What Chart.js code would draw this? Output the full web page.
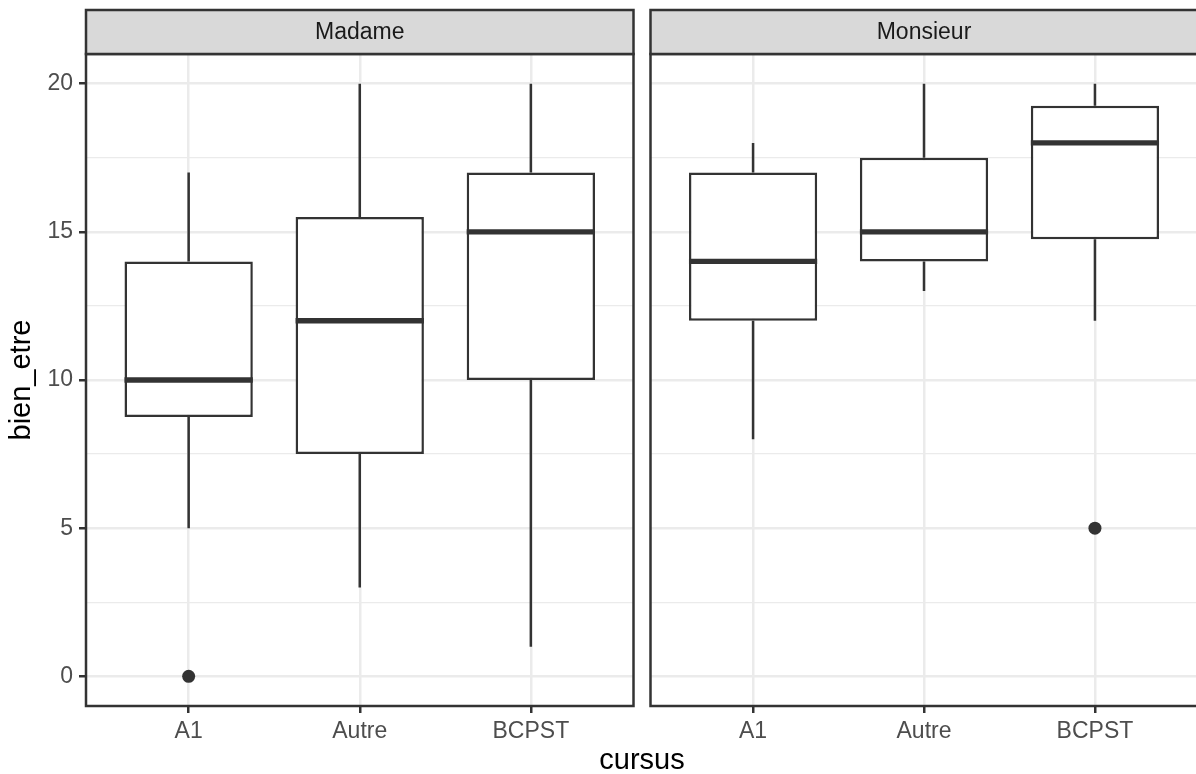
<!DOCTYPE html>
<html>
<head>
<meta charset="utf-8">
<script src="https://cdn.jsdelivr.net/npm/chart.js@4"></script>
<style>
  html, body { margin: 0; padding: 0; background: #fff; overflow: hidden; }
  #page { position: relative; width: 1196px; height: 774px; overflow: hidden; }
  canvas { position: absolute; top: 0; }
  #xtitle { position: absolute; left: 0; width: 1284px; top: 743px; text-align: center;
            font: 29px "Liberation Sans", Arial, sans-serif; color: #000; }
</style>
</head>
<body>
<div id="page">
  <canvas id="gauche" width="640" height="774" style="left:0"></canvas>
  <canvas id="droite" width="560" height="774" style="left:644px"></canvas>
  <div id="xtitle">cursus</div>
</div>
<script>
// Catégories et statistiques des boîtes
const cursus = ['A1', 'Autre', 'BCPST'];
const yTicks = [0, 2.5, 5, 7.5, 10, 12.5, 15, 17.5, 20];

const madameMin = [5, 3, 1];
const madameQ1 = [8.75, 7.5, 10];
const madameMed = [10, 12, 15];
const madameQ3 = [14, 15.5, 17];
const madameMax = [17, 20, 20];
const madameOutliers = [[0], [], []];

const monsieurMin = [8, 13, 12];
const monsieurQ1 = [12, 14, 14.75];
const monsieurMed = [14, 15, 18];
const monsieurQ3 = [17, 17.5, 19.25];
const monsieurMax = [18, 20, 20];
const monsieurOutliers = [[], [], [5]];

const FONT = '"Liberation Sans", Arial, sans-serif';
const DARK = '#333333';

function creerPanneau(id, titre, s, avecAxeY, padding) {
    // Moustaches, médianes, bordure et bandeau
    const boxPlugin = {
        id: 'box_' + id,
        beforeDatasetsDraw(chart) {
            const ctx = chart.ctx;
            const x = chart.scales.x, y = chart.scales.y;
            ctx.save();
            ctx.strokeStyle = DARK;
            ctx.lineWidth = 2.5;
            cursus.forEach((c, i) => {
                const px = x.getPixelForValue(i + 1);
                ctx.beginPath();
                ctx.moveTo(px, y.getPixelForValue(s.q3[i]));
                ctx.lineTo(px, y.getPixelForValue(s.max[i]));
                ctx.moveTo(px, y.getPixelForValue(s.q1[i]));
                ctx.lineTo(px, y.getPixelForValue(s.min[i]));
                ctx.stroke();
            });
            ctx.restore();
        },
        afterDatasetsDraw(chart) {
            const ctx = chart.ctx;
            const y = chart.scales.y;
            const bars = chart.getDatasetMeta(0).data;
            ctx.save();
            ctx.strokeStyle = DARK;
            ctx.lineWidth = 5.3;
            bars.forEach((bar, i) => {
                const py = y.getPixelForValue(s.med[i]);
                ctx.beginPath();
                ctx.moveTo(bar.x - bar.width / 2, py);
                ctx.lineTo(bar.x + bar.width / 2, py);
                ctx.stroke();
            });
            ctx.restore();
        },
        afterDraw(chart) {
            const ctx = chart.ctx;
            const a = chart.chartArea;
            ctx.save();
            ctx.strokeStyle = DARK;
            ctx.lineWidth = 2.5;
            ctx.strokeRect(a.left, a.top, a.right - a.left, a.bottom - a.top);
            // bandeau
            ctx.fillStyle = '#D9D9D9';
            ctx.fillRect(a.left, 10, a.right - a.left, a.top - 10);
            ctx.strokeRect(a.left, 10, a.right - a.left, a.top - 10);
            ctx.fillStyle = '#1A1A1A';
            ctx.font = '23px ' + FONT;
            ctx.textAlign = 'center';
            ctx.textBaseline = 'middle';
            ctx.fillText(titre, (a.left + a.right) / 2, (10 + a.top) / 2 + 1);
            ctx.restore();
        }
    };

    const points = [];
    s.out.forEach((vals, i) => vals.forEach(v => points.push({ x: i + 1, y: v })));

    return new Chart(document.getElementById(id), {
        type: 'bar',
        data: {
            datasets: [{
                data: cursus.map((c, i) => ({ x: i + 1, y: [s.q1[i], s.q3[i]] })),
                backgroundColor: '#FFFFFF',
                borderColor: DARK,
                borderWidth: 2.5,
                borderSkipped: false,
                barPercentage: 0.75,
                categoryPercentage: 1
            }, {
                type: 'scatter',
                data: points,
                pointRadius: 6.5,
                pointBackgroundColor: DARK,
                pointBorderWidth: 0
            }]
        },
        options: {
            responsive: false,
            animation: false,
            layout: { padding: padding },
            plugins: { legend: { display: false }, tooltip: { enabled: false } },
            scales: {
                x: {
                    type: 'linear',
                    min: 0.4,
                    max: 3.6,
                    offset: false,
                    afterBuildTicks: sc => { sc.ticks = cursus.map((c, i) => ({ value: i + 1 })); },
                    afterFit: sc => { sc.height = 68; },
                    border: { display: false },
                    grid: { offset: false, color: '#EBEBEB', lineWidth: 2.5, tickColor: DARK, tickLength: 7, tickWidth: 2.5 },
                    ticks: {
                        callback: v => cursus[Math.round(v) - 1],
                        color: '#4D4D4D',
                        font: { family: FONT, size: 23 },
                        padding: 5,
                        maxRotation: 0
                    }
                },
                y: {
                    min: -1,
                    max: 21,
                    afterBuildTicks: sc => { sc.ticks = yTicks.map(v => ({ value: v })); },
                    afterFit: sc => { sc.width = avecAxeY ? 86 : 0; },
                    border: { display: false },
                    grid: {
                        color: '#EBEBEB',
                        lineWidth: c => (c.tick && c.tick.value % 5 === 0) ? 2.5 : 1.3,
                        tickColor: c => (c.tick && c.tick.value % 5 === 0) ? DARK : 'rgba(0,0,0,0)',
                        tickLength: 7,
                        tickWidth: 2.5,
                        drawTicks: avecAxeY
                    },
                    ticks: {
                        display: avecAxeY,
                        callback: v => (v % 5 === 0 ? String(v) : ''),
                        color: '#4D4D4D',
                        font: { family: FONT, size: 23 },
                        padding: 6
                    },
                    title: {
                        display: avecAxeY,
                        text: 'bien_etre',
                        color: '#000',
                        font: { family: FONT, size: 29 },
                        padding: { top: 5, bottom: 0 }
                    }
                }
            }
        },
        plugins: [boxPlugin]
    });
}

creerPanneau('gauche', 'Madame', {
    min: madameMin, q1: madameQ1, med: madameMed, q3: madameQ3, max: madameMax, out: madameOutliers
}, true, { top: 54, left: 0, right: 4, bottom: 0 });

creerPanneau('droite', 'Monsieur', {
    min: monsieurMin, q1: monsieurQ1, med: monsieurMed, q3: monsieurQ3, max: monsieurMax, out: monsieurOutliers
}, false, { top: 54, left: 4, right: 6, bottom: 0 });
</script>
</body>
</html>
